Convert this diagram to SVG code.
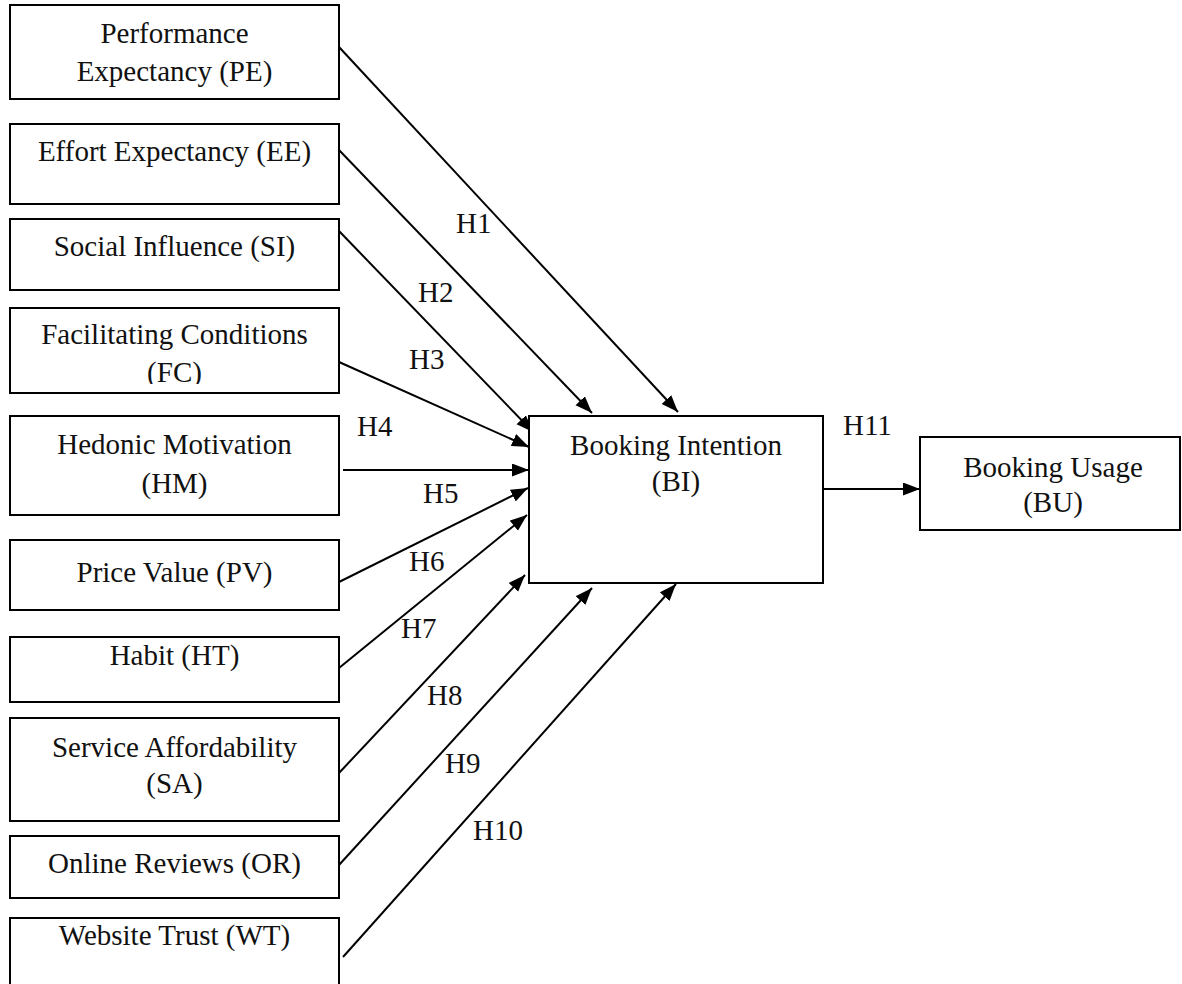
<svg xmlns="http://www.w3.org/2000/svg" width="1182" height="984" viewBox="0 0 1182 984">
<style>
.box{fill:#fff;stroke:#000;stroke-width:2}
.t{font-family:"Liberation Serif","Times New Roman",serif;font-size:29px;fill:#111;text-anchor:middle}
.lbl{font-family:"Liberation Serif","Times New Roman",serif;font-size:29px;fill:#111}
.c{stroke:#000;stroke-width:2;fill:none;marker-end:url(#ah)}
</style>
<defs>
<marker id="ah" markerUnits="userSpaceOnUse" markerWidth="18" markerHeight="14" refX="17" refY="6.5" orient="auto">
<path d="M0,0 L17,6.5 L0,13 z" fill="#000"/>
</marker>
<clipPath id="fcclip"><rect x="10" y="308" width="330" height="76"/></clipPath>
</defs>
<rect width="1182" height="984" fill="#fff"/>

<g id="connectors">
<line class="c" x1="339" y1="47" x2="678" y2="412"/>
<line class="c" x1="339" y1="150" x2="592" y2="413"/>
<line class="c" x1="339" y1="231" x2="533" y2="432"/>
<line class="c" x1="339" y1="362" x2="529" y2="447"/>
<line class="c" x1="343" y1="470" x2="529" y2="470"/>
<line class="c" x1="339" y1="582" x2="528" y2="488"/>
<line class="c" x1="339" y1="668" x2="527" y2="515"/>
<line class="c" x1="339" y1="773" x2="525" y2="575"/>
<line class="c" x1="339" y1="865" x2="592" y2="588"/>
<line class="c" x1="343" y1="957" x2="676" y2="584"/>
<line class="c" x1="823" y1="489" x2="920" y2="489"/>
<text class="lbl" x="456" y="233">H1</text>
<text class="lbl" x="418" y="302">H2</text>
<text class="lbl" x="409" y="369">H3</text>
<text class="lbl" x="357" y="436">H4</text>
<text class="lbl" x="423" y="503">H5</text>
<text class="lbl" x="409" y="571">H6</text>
<text class="lbl" x="401" y="638">H7</text>
<text class="lbl" x="427" y="705">H8</text>
<text class="lbl" x="445" y="773">H9</text>
<text class="lbl" x="473" y="840">H10</text>
<text class="lbl" x="843" y="435">H11</text>
</g>

<g id="PE">
<rect class="box" x="10" y="5" width="329" height="94"/>
<text class="t" x="174.5" y="43">Performance</text>
<text class="t" x="174.5" y="81">Expectancy (PE)</text>
</g>
<g id="EE">
<rect class="box" x="10" y="124" width="329" height="80"/>
<text class="t" x="174.5" y="161">Effort Expectancy (EE)</text>
</g>
<g id="SI">
<rect class="box" x="10" y="219" width="329" height="71"/>
<text class="t" x="174.5" y="256">Social Influence (SI)</text>
</g>
<g id="FC">
<rect class="box" x="10" y="308" width="329" height="85"/>
<g clip-path="url(#fcclip)">
<text class="t" x="174.5" y="344">Facilitating Conditions</text>
<text class="t" x="174.5" y="382">(FC)</text>
</g>
</g>
<g id="HM">
<rect class="box" x="10" y="416" width="329" height="99"/>
<text class="t" x="174.5" y="454">Hedonic Motivation</text>
<text class="t" x="174.5" y="493">(HM)</text>
</g>
<g id="PV">
<rect class="box" x="10" y="540" width="329" height="70"/>
<text class="t" x="174.5" y="582">Price Value (PV)</text>
</g>
<g id="HT">
<rect class="box" x="10" y="637" width="329" height="65"/>
<text class="t" x="174.5" y="665">Habit (HT)</text>
</g>
<g id="SA">
<rect class="box" x="10" y="718" width="329" height="103"/>
<text class="t" x="174.5" y="757">Service Affordability</text>
<text class="t" x="174.5" y="793">(SA)</text>
</g>
<g id="OR">
<rect class="box" x="10" y="836" width="329" height="62"/>
<text class="t" x="174.5" y="873">Online Reviews (OR)</text>
</g>
<g id="WT">
<rect class="box" x="10" y="918" width="329" height="80"/>
<text class="t" x="174.5" y="945">Website Trust (WT)</text>
</g>
<g id="BI">
<rect class="box" x="529" y="416" width="294" height="167"/>
<text class="t" x="676" y="455">Booking Intention</text>
<text class="t" x="676" y="491">(BI)</text>
</g>
<g id="BU">
<rect class="box" x="920" y="437" width="260" height="93"/>
<text class="t" x="1053" y="477">Booking Usage</text>
<text class="t" x="1053" y="512">(BU)</text>
</g>
</svg>
